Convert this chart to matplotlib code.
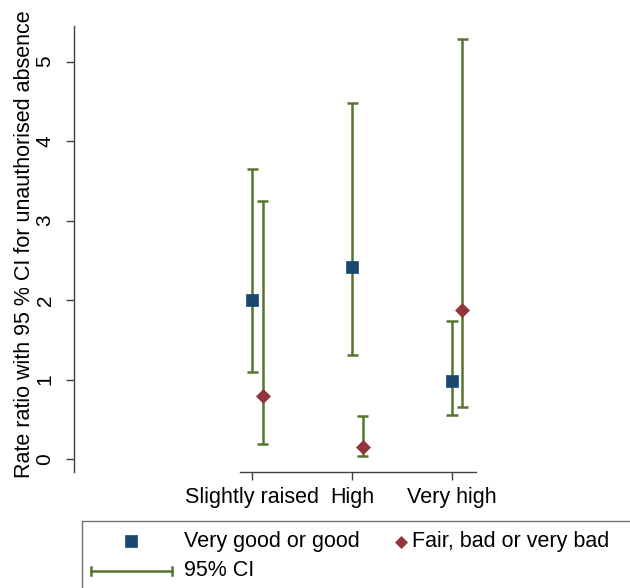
#!/usr/bin/env python
"""
rate ratios with 95% CI for unauthorised absence, by category and health group
"""

import numpy as np
import matplotlib
matplotlib.use('Agg')
import matplotlib.pyplot as plt
from matplotlib.patches import Rectangle

categories = ['Slightly raised', 'High', 'Very high']

good_rr = [2.00, 2.42, 0.98]
good_lo = [1.10, 1.31, 0.55]
good_hi = [3.65, 4.48, 1.74]

bad_rr = [0.79, 0.15, 1.87]
bad_lo = [0.19, 0.04, 0.66]
bad_hi = [3.245, 0.545, 5.28]

yticks = [0, 1, 2, 3, 4, 5]

BLUE = '#1a476f'
RED = '#90353b'
GREEN = '#55752f'

plt.rcParams['font.family'] = ['Liberation Sans', 'DejaVu Sans']
FS = 15.5

W, H = 630, 588
fig = plt.figure(figsize=(W / 100, H / 100), dpi=100)
ax = fig.add_axes([74 / W, (H - 472) / H, 402 / W, 446 / H])

x = np.arange(1, len(categories) + 1)
off = 0.105
LW = 1.8

def draw_ci(xs, lo, hi):
    ax.vlines(xs, lo, hi, color=GREEN, lw=LW, zorder=2)
    ax.hlines(lo, xs - 0.055, xs + 0.055, color=GREEN, lw=LW, zorder=2)
    ax.hlines(hi, xs - 0.055, xs + 0.055, color=GREEN, lw=LW, zorder=2)

draw_ci(x, good_lo, good_hi)
draw_ci(x + off, bad_lo, bad_hi)
ax.plot(x, good_rr, ls='none', marker='s', ms=8, mfc=BLUE, mec=BLUE, mew=0.5, zorder=3)
ax.plot(x + off, bad_rr, ls='none', marker='D', ms=7, mfc=RED, mec=RED, mew=0.5, zorder=3)

ax.set_xlim(-0.78, 3.24)
ax.set_ylim(-0.1635, 5.447)
ax.spines['top'].set_visible(False)
ax.spines['right'].set_visible(False)
ax.spines['bottom'].set_bounds(0.88, 3.24)
for s in ['left', 'bottom']:
    ax.spines[s].set_color('#404040')
    ax.spines[s].set_linewidth(1.0)

ax.set_xticks(x)
ax.set_xticklabels(categories, fontsize=FS)
ax.set_yticks(yticks)
ax.set_yticklabels([str(t) for t in yticks], fontsize=15, rotation=90, va='center')
ax.tick_params(axis='both', length=6, width=1.0, color='#404040', pad=5)
ax.tick_params(axis='y', pad=8)
ax.set_ylabel('Rate ratio with 95 % CI for unauthorised absence', fontsize=FS)
ax.yaxis.set_label_coords(-0.097, 0.51)

# legend drawn by hand, in pixel coordinates
lg = fig.add_axes([0, 0, 1, 1], zorder=5)
lg.set_xlim(0, W)
lg.set_ylim(H, 0)
lg.axis('off')
lg.add_patch(Rectangle((82, 520.5), 600, 100, fill=False, ec='#707070', lw=1.0))
lg.plot([131], [541], marker='s', ms=8, mfc=BLUE, mec=BLUE, mew=0.5)
lg.text(184, 541, 'Very good or good', fontsize=FS, va='center', ha='left')
lg.plot([401], [542], marker='D', ms=6.5, mfc=RED, mec=RED, mew=0.5)
lg.text(412, 541, 'Fair, bad or very bad', fontsize=FS, va='center', ha='left')
lg.plot([91, 172], [571, 571], color=GREEN, lw=LW)
lg.plot([91, 91], [567, 575], color=GREEN, lw=LW)
lg.plot([172, 172], [567, 575], color=GREEN, lw=LW)
lg.text(184, 571, '95% CI', fontsize=FS, va='center', ha='left')

fig.savefig('out.png', dpi=100)
